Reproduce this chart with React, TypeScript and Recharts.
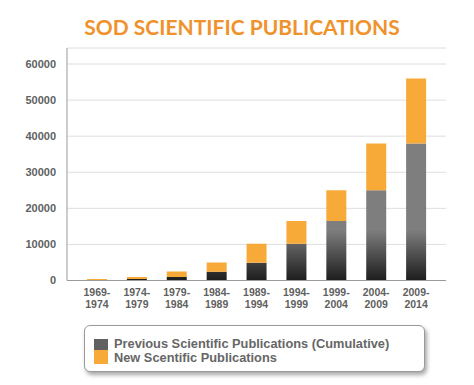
import { BarChart, Bar, XAxis, YAxis, CartesianGrid } from "recharts"

const periods = [
  "1969-1974",
  "1974-1979",
  "1979-1984",
  "1984-1989",
  "1989-1994",
  "1994-1999",
  "1999-2004",
  "2004-2009",
  "2009-2014",
]
const previousPubs = [100, 400, 1000, 2400, 4900, 10200, 16500, 25000, 38000]
const newPubs = [300, 600, 1500, 2600, 5300, 6300, 8500, 13000, 18000]
const yTicks = [0, 10000, 20000, 30000, 40000, 50000, 60000]

const data = periods.map((period, i) => ({
  period,
  previous: previousPubs[i],
  fresh: newPubs[i],
}))

const ORANGE = "#F8AA38"
const LABEL = "#5f5f5f"

function PeriodTick(props: any) {
  const { x, y, payload } = props
  const [a, b] = String(payload.value).split("-")
  return (
    <text
      x={x}
      y={y}
      textAnchor="middle"
      fill={LABEL}
      fontSize={10.5}
      fontWeight="bold"
      fontFamily="'Liberation Sans', Arial, sans-serif"
    >
      <tspan x={x} dy={7}>{a + "-"}</tspan>
      <tspan x={x} dy={12.5}>{b}</tspan>
    </text>
  )
}

export default function App() {
  return (
    <div style={{ position: "absolute", left: 0, top: 0, width: 474, height: 385, background: "#fff" }}>
      <div
        style={{
          position: "absolute",
          top: 14,
          left: 0,
          width: 484,
          textAlign: "center",
          color: "#F0922B",
          fontFamily: "Lato, 'Open Sans', sans-serif",
          fontWeight: 700,
          fontSize: 21,
        }}
      >
        SOD SCIENTIFIC PUBLICATIONS
      </div>

      <BarChart
        width={474}
        height={385}
        data={data}
        margin={{ top: 48, right: 28, left: 0, bottom: 74.5 }}
        style={{ position: "absolute", left: 0, top: 0 }}
      >
        <defs>
          <linearGradient id="grayFill" gradientUnits="userSpaceOnUse" x1="0" y1="280" x2="0" y2="230">
            <stop offset="0%" stopColor="#1e1e1e" />
            <stop offset="100%" stopColor="#7e7e7e" />
          </linearGradient>
        </defs>
        <CartesianGrid vertical={false} stroke="#dedede" />
        <XAxis
          dataKey="period"
          interval={0}
          height={30}
          padding={{ left: 10, right: 10 }}
          tickLine={false}
          stroke="#9a9a9a"
          tick={<PeriodTick />}
        />
        <YAxis
          width={67}
          domain={[0, 64440]}
          ticks={yTicks}
          allowDataOverflow
          tickLine={false}
          tickSize={0}
          tickMargin={11}
          stroke="#9a9a9a"
          tick={{ fill: LABEL, fontSize: 11, fontWeight: "bold", fontFamily: "'Liberation Sans', Arial, sans-serif" }}
        />
        <Bar dataKey="previous" stackId="a" fill="url(#grayFill)" barSize={20} isAnimationActive={false} />
        <Bar dataKey="fresh" stackId="a" fill={ORANGE} barSize={20} isAnimationActive={false} />
      </BarChart>

      <div
        style={{
          position: "absolute",
          left: 84,
          top: 325,
          width: 339,
          height: 45,
          border: "1.5px solid #9a9a9a",
          borderRadius: 6,
          boxShadow: "2px 3px 4px rgba(0,0,0,0.35)",
          background: "#fff",
          fontFamily: "'Liberation Sans', Arial, sans-serif",
          fontWeight: "bold",
          fontSize: 12.8,
          color: "#666",
        }}
      >
        <div style={{ position: "absolute", left: 9, top: 13, width: 14, height: 11, background: "#616161" }} />
        <div style={{ position: "absolute", left: 29, top: 10, whiteSpace: "nowrap" }}>
          Previous Scientific Publications (Cumulative)
        </div>
        <div style={{ position: "absolute", left: 9, top: 24, width: 14, height: 14, background: ORANGE }} />
        <div style={{ position: "absolute", left: 29, top: 24, whiteSpace: "nowrap" }}>
          New Scentific Publications
        </div>
      </div>
    </div>
  )
}
